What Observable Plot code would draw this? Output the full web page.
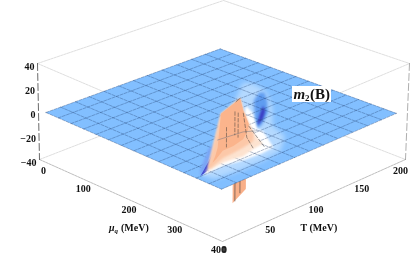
<!DOCTYPE html>
<html>
<head>
<meta charset="utf-8">
<script src="https://cdn.jsdelivr.net/npm/d3@7"></script>
<script src="https://cdn.jsdelivr.net/npm/@observablehq/plot@0.6"></script>
<style>
html,body{margin:0;padding:0;background:#fff}
svg{display:block;filter:blur(.3px)}
.soft3{filter:blur(2.5px)}
.soft2{filter:blur(1.6px)}
.soft1{filter:blur(1px)}
.soft0{filter:blur(.4px)}
</style>
</head>
<body>
<div id="chart"></div>
<script>
// axis values
const muTicks = [0, 100, 200, 300, 400];
const tTicks = [0, 50, 100, 150, 200];
const zTicks = [40, 20, 0, -20, -40];
// mesh of the surface (MeV)
const muMesh = [10,37,65,92,119,146,174,201,228,255,283,310,337,365,392];
const tMesh = [3,19,35,50,66,82,98,113,129,145,161,176,192];
// surface pieces as [mu, T, m2]
const plane = [[10,3,0],[392,3,0],[392,192,0],[10,192,0]];
const paleHalo = [[133,155,0],[146,160,0],[180,156,0],[229,139,0],[284,112,0],[325,105,0],[359,83,0],[365,61,0],[366,36,0],[359,12,0],[339,9,0]];
const ringHalo = [[195,136,0],[178,150,0],[184,153,0],[210,143,0],[244,127,0],[270,107,0],[273,99,0]];
const pitDark = [[259,108,0],[235,123,0],[219,134,0],[236,128,0],[255,116,0],[266,105,0]];
const whiteBand = [[200,125,0],[226,119,0],[275,100,0],[287,100,0],[342,84,0],[345,70,0],[342,50,0],[335,33,0],[338,9,0],[329,17,0],[263,88,0]];
const leftGlow = [[304,39,12],[316,34,8],[318,29,0],[331,16,0],[336,8,0],[321,15,0],[298,31,0],[276,46,0]];
const leftDip = [[306,41,12],[319,34,8],[320,30,0],[331,17,0],[336,8,0],[325,17,0],[305,33,0],[284,48,0]];
const lowerWall = [[316,53,-40],[295,78,-40],[295,78,0],[316,53,0]];
const peachBand = [[303,67,40],[308,68,30],[316,70,20],[323,72,12],[321,83,0],[324,71,0],[332,56,0],[328,47,0],[327,37,0],[333,14,0],[326,21,1],[324,36,40]];
const lightBand = [[303,67,40],[308,68,30],[316,70,20],[323,72,12],[316,75,4],[316,64,2],[319,52,2],[321,40,2],[328,23,0],[326,21,1],[324,36,40]];
const orangeBand = [[324,36,40],[303,67,40],[308,68,30],[316,70,20],[302,76,10],[306,69,6],[307,58,4],[308,46,4],[322,32,4],[324,23,1],[326,21,1],[328,25,4],[326,29,8],[329,30,15]];
const wallMesh = [
  [[318,45,25],[318,45,9]],
  [[308,59,32],[308,59,13]],
  [[305,64,29],[305,64,9]],
  [[308,68,28],[312,70,8],[322,72,0]],
  [[316,70,18],[318,74,12],[330,80,0]]
];
const wallTip = [[308,60,40],[303,67,40]];
const wallCross = [[325,32,20],[306,69,12],[280,97,0]];
const lowerMesh = [[[313,57,-40],[313,57,-5]],[[304,67,-38],[304,67,-5]]];

// camera: where the eight corners of the plot box fall in the picture
const cam = {
  b00:[39,159], b10:[222,241], b01:[222,88], b11:[405,159],
  t00:[37,63],  t10:[222,142], t01:[223,0],  t11:[409,63]
};
function project([mu, T, z]) {
  const u = mu/400, v = T/200, w = (z+40)/80;
  const f = i => {
    const b = cam.b00[i]*(1-u)*(1-v)+cam.b10[i]*u*(1-v)+cam.b01[i]*(1-u)*v+cam.b11[i]*u*v;
    const t = cam.t00[i]*(1-u)*(1-v)+cam.t10[i]*u*(1-v)+cam.t01[i]*(1-u)*v+cam.t11[i]*u*v;
    return b*(1-w)+t*w;
  };
  return {x:f(0), y:f(1)};
}
const pts = a => a.map(project);
const area = (a, fill, className) => Plot.line(pts(a), {x:"x", y:"y", fill, stroke:"none", className});
const path = (a, o) => Plot.line(pts(a), {x:"x", y:"y", ...o});

const boxFar = {stroke:"#d0d0d0", strokeWidth:.7, strokeDasharray:"2.5 1"};
const boxNear = {stroke:"#a0a0a0", strokeWidth:.7, strokeDasharray:"2.5 1"};
const meshStyle = {stroke:"#223f70", strokeOpacity:.5, strokeWidth:.7, strokeDasharray:"3 1.4"};
const wallLine = {stroke:"#333", strokeOpacity:.75, strokeWidth:.65, strokeDasharray:"3.5 2"};
const font = {fontFamily:"'Liberation Serif', serif", fontWeight:"bold", fill:"#111"};

const muRows = muTicks.map(m => ({m, ...project([m,0,-40])}));
const tRows = tTicks.map(t => ({t, ...project([400,t,-40])}));
const zRows = zTicks.map(z => ({z, ...project([0,0,z])}));
const fmt = v => v < 0 ? "\u2212" + (-v) : String(v);

const marks = [
  // box edges behind the surface
  path([[0,0,40],[0,200,40],[400,200,40]], boxFar),
  path([[0,0,40],[400,0,40]], boxFar),
  path([[400,0,40],[400,200,40]], boxFar),
  path([[0,0,-40],[0,200,-40],[400,200,-40]], boxFar),
  path([[0,0,-40],[400,0,-40],[400,200,-40]], boxNear),
  path([[0,0,40],[0,0,-40]], {stroke:"#444", strokeWidth:.8, strokeDasharray:"7 3"}),
  path([[400,200,40],[400,200,-40]], {stroke:"#999", strokeWidth:.8, strokeDasharray:"7 3"}),
  // part of the wall below the surface
  area(lowerWall, "#f9b089"),
  ...lowerMesh.map(l => path(l, {stroke:"#333", strokeOpacity:.8, strokeWidth:.7})),
  // surface
  area(plane, "#82bfff"),
  area(paleHalo, "#b4d9ff", "soft3"),
  area(ringHalo, "#5f9cf0", "soft2"),
  area(pitDark, "#3a3ec4", "soft1"),
  area(whiteBand, "#ffffff", "soft1"),
  ...muMesh.map(m => path([[m,3,0],[m,192,0]], meshStyle)),
  ...tMesh.map(t => path([[10,t,0],[392,t,0]], meshStyle)),
  // ridge
  area(leftGlow, "#7aa5f5", "soft1"),
  area(leftDip, "#3f47cf", "soft0"),
  area(peachBand, "#fde3d0", "soft1"),
  area(lightBand, "#fcc8a8", "soft1"),
  area(orangeBand, "#fbb48c", "soft0"),
  path(wallCross, {stroke:"#5a6a80", strokeOpacity:.6, strokeWidth:.7}),
  path(wallTip, {stroke:"#444", strokeOpacity:.7, strokeWidth:.8}),
  ...wallMesh.map(l => path(l, wallLine)),
  // tick labels
  Plot.text(zRows, {x:"x", y:"y", text:d => fmt(d.z), textAnchor:"end", dx:-3, dy:3.5, fontSize:10, ...font}),
  Plot.text(muRows.filter(d => d.m > 0 && d.m < 400), {x:"x", y:"y", text:"m", dx:-2, dy:9, fontSize:10, ...font}),
  Plot.text(muRows.filter(d => d.m === 0), {x:"x", y:"y", text:"m", dx:4, dy:11, fontSize:10, ...font}),
  Plot.text(muRows.filter(d => d.m === 400), {x:"x", y:"y", text:"m", dx:-4, dy:8, fontSize:10, ...font}),
  Plot.text(tRows.filter(d => d.t > 0 && d.t < 200), {x:"x", y:"y", text:"t", dx:2, dy:9, fontSize:10, ...font}),
  Plot.text(tRows.filter(d => d.t === 0), {x:"x", y:"y", text:"t", dx:2, dy:8, fontSize:10, ...font}),
  Plot.text(tRows.filter(d => d.t === 200), {x:"x", y:"y", text:"t", dx:-5, dy:11, fontSize:10, ...font}),
  // axis titles
  Plot.text([{x:108.5,y:227}], {x:"x", y:"y", text:() => "\u03bc", textAnchor:"start", fontStyle:"italic", fontSize:10, ...font}),
  Plot.text([{x:114,y:230}], {x:"x", y:"y", text:() => "q", textAnchor:"start", fontStyle:"italic", fontSize:7, ...font}),
  Plot.text([{x:120.5,y:227}], {x:"x", y:"y", text:() => "(MeV)", textAnchor:"start", fontSize:10, ...font}),
  Plot.text([{x:300,y:227}], {x:"x", y:"y", text:() => "T (MeV)", textAnchor:"start", fontSize:10, ...font}),
  // panel label
  Plot.rect([{x1:292,x2:331,y1:86,y2:102}], {x1:"x1", x2:"x2", y1:"y1", y2:"y2", fill:"#fff"}),
  Plot.text([{x:293,y:93.5}], {x:"x", y:"y", text:() => "m", textAnchor:"start", fontStyle:"italic", fontSize:15, ...font}),
  Plot.text([{x:304.5,y:97.5}], {x:"x", y:"y", text:() => "2", textAnchor:"start", fontSize:9, ...font}),
  Plot.text([{x:309.5,y:93.5}], {x:"x", y:"y", text:() => "(B)", textAnchor:"start", fontSize:15, ...font})
];

const chart = Plot.plot({
  width:415, height:266, margin:0,
  x:{domain:[0,415], range:[0,415], axis:null},
  y:{domain:[0,266], range:[0,266], axis:null},
  marks
});
document.getElementById("chart").append(chart);
</script>
</body>
</html>
